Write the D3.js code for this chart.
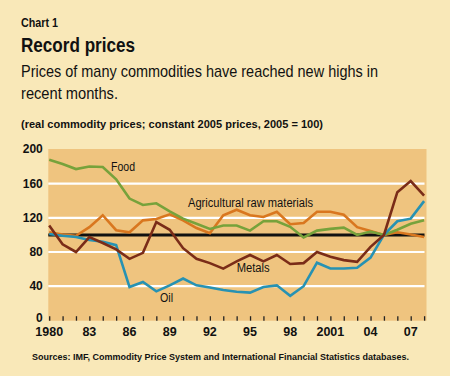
<!DOCTYPE html>
<html><head><meta charset="utf-8">
<script src="https://cdn.jsdelivr.net/npm/d3@7"></script>
<style>
html,body{margin:0;padding:0;background:#F9E8B8;}
svg{display:block;}
text{font-family:"Liberation Sans",Arial,sans-serif;fill:#111;}
</style></head>
<body><svg id="c" width="450" height="376"></svg>
<script>
const years = d3.range(1980, 2009);
const food = [188,183,177,180,179.5,165,142.5,135,137,127.5,119,113,107,111,111,105,116,116,109.5,97,105,107,108.5,100,104,100,106,113,117];
const agri = [103,100.5,99,109,123,105.5,103,117,118.5,124,117,108,102,123,129.5,123,121,127,112.5,114,127,127,123.5,109,104.5,100,103,100.5,97.5];
const metals = [111,89,80,97.5,90.5,83,72,79,115,106,84.5,72,67,60.5,69,76.5,69,76.5,66,67,80,74.5,70.5,68.5,86,100,150,163,146];
const oil = [101,99,97.5,94,92,88,39,45,34,41,49,41,38.5,35.5,33.5,32.5,39,41,28.7,40,67.5,60.7,60.7,61.5,73.5,100,116,119,139.5];
const yTicks = [0,40,80,120,160,200];
const xLabelYears = [1980,1983,1986,1989,1992,1995,1998,2001,2004,2007];
const xLabelText = ["1980","83","86","89","92","95","98","2001","04","07"];

const svg = d3.select("#c");
svg.append("rect").attr("width",450).attr("height",376).attr("fill","#F9E8B8");

const x = d3.scaleLinear().domain([1980,2008]).range([49.2,424.1]);
const y = d3.scaleLinear().domain([0,200]).range([320.4,149.4]);

svg.append("rect").attr("x",48.3).attr("y",149).attr("width",426.5-48.3).attr("height",320.7-149).attr("fill","#EFC47F");

// grid
svg.append("g").selectAll("line").data(yTicks.filter(d=>d>0&&d<200)).join("line")
  .attr("x1",48.3).attr("x2",424.5).attr("y1",d=>y(d)).attr("y2",d=>y(d))
  .attr("stroke","#fff").attr("stroke-width",2.2);

// x ticks
const xAxis = d3.axisBottom(x).tickValues(years).tickSize(-4.5).tickFormat("");
const gx = svg.append("g").attr("transform","translate(0,320.7)").call(xAxis);
gx.select(".domain").remove();
gx.selectAll(".tick line").attr("stroke","#222").attr("stroke-width",1.3);

// y labels
svg.append("g").selectAll("text").data(yTicks).join("text")
  .attr("x",42.8).attr("y",d=>Math.min(y(d)+4,322)).attr("text-anchor","end")
  .style("font-size","12px").style("font-weight","bold").text(d=>d);

// x labels
svg.append("g").selectAll("text").data(xLabelYears).join("text")
  .attr("x",d=>x(d)).attr("y",336).attr("text-anchor","middle")
  .style("font-size","12.5px").style("font-weight","bold").text((d,i)=>xLabelText[i]);

// 100 line
svg.append("line").attr("x1",48.3).attr("x2",424.5).attr("y1",y(100)).attr("y2",y(100))
  .attr("stroke","#111").attr("stroke-width",3);

const line = d3.line().x((d,i)=>x(years[i])).y(d=>y(d));
const series = [
  {v:agri,c:"#D9771F"},
  {v:food,c:"#77A23B"},
  {v:oil,c:"#2792B3"},
  {v:metals,c:"#7A2C18"}
];
svg.append("g").selectAll("path").data(series).join("path")
  .attr("d",d=>line(d.v)).attr("fill","none").attr("stroke",d=>d.c)
  .attr("stroke-width",2.6).attr("stroke-linejoin","miter");

function fit(sel, w){ sel.attr("textLength",w).attr("lengthAdjust","spacingAndGlyphs"); return sel; }

// series labels
const lab = [["Food",111,171,24],["Agricultural raw materials",188,206.5,125],["Metals",236.7,272,33],["Oil",160,301.5,13]];
lab.forEach(d=>{
  fit(svg.append("text").attr("x",d[1]).attr("y",d[2]).style("font-size","12px").text(d[0]), d[3]);
});

// titles
fit(svg.append("text").attr("x",21).attr("y",27).style("font-size","12.5px").style("font-weight","bold").text("Chart 1"),37);
fit(svg.append("text").attr("x",21).attr("y",52).style("font-size","19.5px").style("font-weight","bold").text("Record prices"),114);
fit(svg.append("text").attr("x",21).attr("y",77).style("font-size","15.7px").text("Prices of many commodities have reached new highs in"),357);
fit(svg.append("text").attr("x",21).attr("y",99).style("font-size","15.7px").text("recent months."),97);
fit(svg.append("text").attr("x",21).attr("y",128).style("font-size","11px").style("font-weight","bold").text("(real commodity prices; constant 2005 prices, 2005 = 100)"),302);
fit(svg.append("text").attr("x",32).attr("y",360).style("font-size","9.8px").style("font-weight","bold").text("Sources: IMF, Commodity Price System and International Financial Statistics databases."),377);
</script>
</body></html>
